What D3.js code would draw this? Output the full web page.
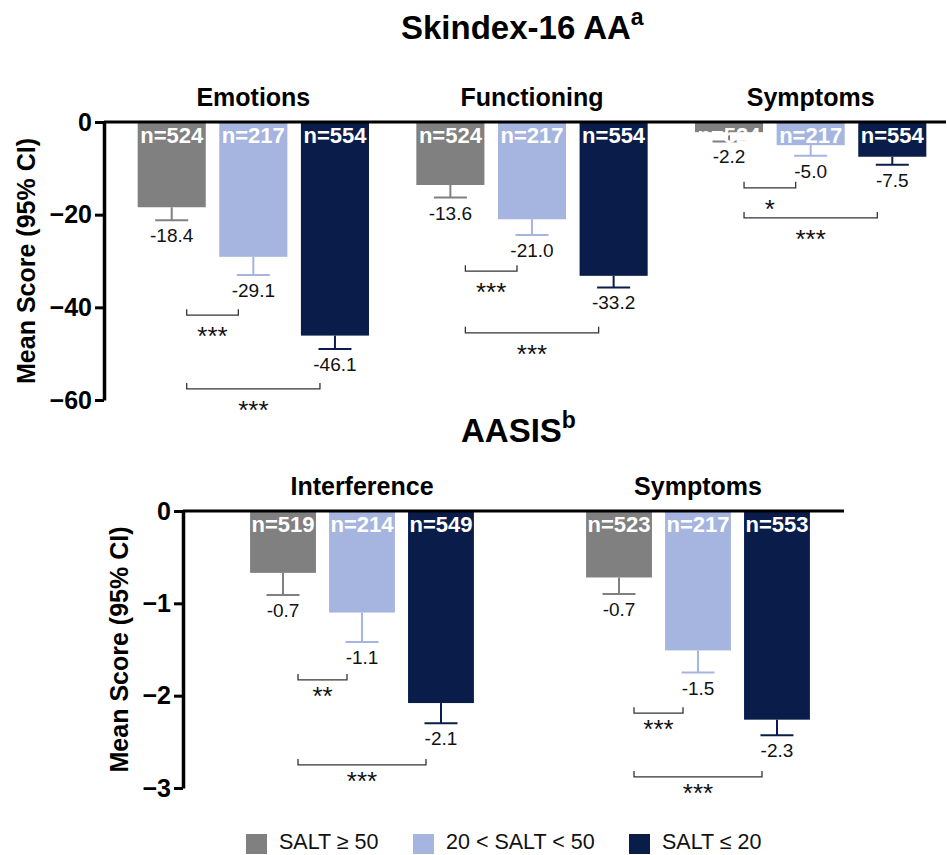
<!DOCTYPE html>
<html>
<head>
<meta charset="utf-8">
<script src="https://cdn.jsdelivr.net/npm/d3@7"></script>
<style>
  body { margin: 0; background: #fff; }
  text { font-family: Arial, "Liberation Sans", Helvetica, sans-serif; }
</style>
</head>
<body>
<script>
// series (SALT groups)
const seriesLabels = ["SALT \u2265 50", "20 < SALT < 50", "SALT \u2264 20"];
const seriesColors = ["#808080", "#a6b5df", "#0a1d4a"];

// Skindex-16 AA
const skindexDomains = ["Emotions", "Functioning", "Symptoms"];
const skindexMeans = [[-18.4, -29.1, -46.1], [-13.6, -21.0, -33.2], [-2.2, -5.0, -7.5]];
const skindexLower = [[-21.2, -33.0, -49.0], [-16.3, -24.4, -35.7], [-4.2, -7.3, -9.2]];
const skindexN = [[524, 217, 554], [524, 217, 554], [524, 217, 554]];
// [from series, to series, bracket level, label]
const skindexSig = [
  [[0, 1, -41.7, "***"], [0, 2, -57.6, "***"]],
  [[0, 1, -32.2, "***"], [0, 2, -45.5, "***"]],
  [[0, 1, -14.2, "*"], [0, 2, -20.7, "***"]]
];
const skindexTicks = [0, -20, -40, -60];

// AASIS
const aasisDomains = ["Interference", "Symptoms"];
const aasisMeans = [[-0.7, -1.1, -2.1], [-0.7, -1.5, -2.3]];
const aasisBars = [[-0.67, -1.10, -2.08], [-0.72, -1.51, -2.26]];
const aasisLower = [[-0.91, -1.42, -2.30], [-0.90, -1.75, -2.43]];
const aasisN = [[519, 214, 549], [523, 217, 553]];
const aasisSig = [
  [[0, 1, -1.83, "**"], [0, 2, -2.75, "***"]],
  [[0, 1, -2.19, "***"], [0, 2, -2.88, "***"]]
];
const aasisTicks = [0, -1, -2, -3];

const W = 947, H = 855;

const svg = d3.select("body").append("svg")
    .attr("width", W)
    .attr("height", H);

function drawPanel(p) {
  let g = svg.append("g");

  let y = d3.scaleLinear().domain(p.yDomain).range(p.yRange);
  let x0 = d3.scaleBand().domain(p.domains).range(p.xRange);
  let x1 = d3.scaleBand().domain([0, 1, 2])
      .range([0, x0.bandwidth()])
      .paddingInner(0.166)
      .paddingOuter(p.outerPad);
  let cx = (gi, si) => x0(p.domains[gi]) + x1(si) + x1.bandwidth() / 2;

  // title with superscript
  let t = g.append("text")
      .attr("x", p.titleX)
      .attr("y", p.titleY)
      .attr("font-size", 33)
      .attr("font-weight", "bold")
      .text(p.title);
  t.append("tspan")
      .attr("font-size", 23)
      .attr("dy", -14)
      .text(p.sup);

  // domain subtitles
  g.selectAll(".sub")
    .data(p.domains)
    .enter().append("text")
      .attr("class", "sub")
      .attr("x", d => x0(d) + x0.bandwidth() / 2)
      .attr("y", p.subY)
      .attr("text-anchor", "middle")
      .attr("font-size", 25)
      .attr("font-weight", "bold")
      .text(d => d);

  // bars
  let cells = [];
  p.domains.forEach((d, gi) => {
    [0, 1, 2].forEach(si => {
      cells.push({gi: gi, si: si, v: p.bars[gi][si], label: p.means[gi][si],
                  lo: p.lower[gi][si], n: p.n[gi][si]});
    });
  });

  let bar = g.selectAll(".bar")
    .data(cells)
    .enter().append("g")
      .attr("class", "bar");

  bar.append("rect")
      .attr("x", d => x0(p.domains[d.gi]) + x1(d.si))
      .attr("y", y(0))
      .attr("width", x1.bandwidth())
      .attr("height", d => y(d.v) - y(0))
      .attr("fill", d => seriesColors[d.si]);

  // error bars
  bar.append("line")
      .attr("x1", d => cx(d.gi, d.si))
      .attr("x2", d => cx(d.gi, d.si))
      .attr("y1", d => y(d.v))
      .attr("y2", d => y(d.lo))
      .attr("stroke", d => seriesColors[d.si])
      .attr("stroke-width", 2);
  bar.append("line")
      .attr("x1", d => cx(d.gi, d.si) - 16.5)
      .attr("x2", d => cx(d.gi, d.si) + 16.5)
      .attr("y1", d => y(d.lo))
      .attr("y2", d => y(d.lo))
      .attr("stroke", d => seriesColors[d.si])
      .attr("stroke-width", 2);

  // n labels
  bar.append("text")
      .attr("x", d => cx(d.gi, d.si))
      .attr("y", y(0) + 21)
      .attr("text-anchor", "middle")
      .attr("font-size", 22)
      .attr("font-weight", "bold")
      .attr("fill", "#fff")
      .text(d => "n=" + d.n);

  // mean labels
  bar.append("text")
      .attr("x", d => cx(d.gi, d.si))
      .attr("y", d => y(d.lo) + 22)
      .attr("text-anchor", "middle")
      .attr("font-size", 19)
      .attr("fill", "#111")
      .text(d => d.label.toFixed(1));

  // significance brackets
  let sig = [];
  p.sig.forEach((list, gi) => list.forEach(s => sig.push({gi: gi, a: s[0], b: s[1], v: s[2], label: s[3]})));

  let br = g.selectAll(".sig")
    .data(sig)
    .enter().append("g")
      .attr("class", "sig");

  br.append("path")
      .attr("d", d => {
        let xa = cx(d.gi, d.a) + 15, xb = cx(d.gi, d.b) - 15, yy = y(d.v);
        return "M" + xa + "," + (yy - 6) + "V" + yy + "H" + xb + "V" + (yy - 6);
      })
      .attr("fill", "none")
      .attr("stroke", "#333")
      .attr("stroke-width", 1.3);

  br.append("text")
      .attr("x", d => (cx(d.gi, d.a) + cx(d.gi, d.b)) / 2)
      .attr("y", d => y(d.v) + p.starOff)
      .attr("text-anchor", "middle")
      .attr("font-size", 26)
      .attr("fill", "#111")
      .text(d => d.label);

  // y axis
  let axis = g.append("g")
      .attr("transform", "translate(" + p.axisX + ",0)")
      .call(d3.axisLeft(y).tickValues(p.ticks).tickFormat(d3.format("d"))
        .tickSize(9).tickSizeOuter(0).tickPadding(3));
  axis.select(".domain").attr("stroke", "#000").attr("stroke-width", 3.5);
  axis.selectAll(".tick line").attr("stroke", "#000").attr("stroke-width", 3);
  axis.selectAll(".tick text")
      .attr("fill", "#000")
      .attr("font-size", 25)
      .attr("font-weight", "bold")
      .attr("font-family", null);

  // zero line
  g.append("line")
      .attr("x1", p.axisX)
      .attr("x2", p.zeroEnd)
      .attr("y1", y(0))
      .attr("y2", y(0))
      .attr("stroke", "#000")
      .attr("stroke-width", 3);

  g.append("text")
      .attr("transform", "translate(" + p.labelX + "," + (p.yRange[0] + p.yRange[1]) / 2 + ") rotate(-90)")
      .attr("text-anchor", "middle")
      .attr("font-size", 25)
      .attr("font-weight", "bold")
      .text("Mean Score (95% CI)");
}

drawPanel({
  title: "Skindex-16 AA", sup: "a", titleX: 401, titleY: 39,
  domains: skindexDomains, means: skindexMeans, bars: skindexMeans, lower: skindexLower,
  n: skindexN, sig: skindexSig, ticks: skindexTicks,
  yDomain: [-60, 0], yRange: [400, 122], xRange: [114, 950], outerPad: 0.29,
  axisX: 104, zeroEnd: 946, subY: 106, labelX: 35, starOff: 30
});

drawPanel({
  title: "AASIS", sup: "b", titleX: 461, titleY: 442,
  domains: aasisDomains, means: aasisMeans, bars: aasisBars, lower: aasisLower,
  n: aasisN, sig: aasisSig, ticks: aasisTicks,
  yDomain: [-3, 0], yRange: [788, 511], xRange: [194, 866], outerPad: 0.71,
  axisX: 183, zeroEnd: 844, subY: 495, labelX: 128, starOff: 25
});

// legend
let legend = svg.append("g")
    .attr("transform", "translate(246,834)");

let lx = d3.scaleOrdinal().domain(seriesLabels).range([0, 167, 383]);

let item = legend.selectAll(".item")
  .data(seriesLabels)
  .enter().append("g")
    .attr("class", "item")
    .attr("transform", d => "translate(" + lx(d) + ",0)");

item.append("rect")
    .attr("width", 21)
    .attr("height", 20)
    .attr("fill", (d, i) => seriesColors[i]);

item.append("text")
    .attr("x", 33)
    .attr("y", 15)
    .attr("font-size", 21.5)
    .attr("fill", "#111")
    .text(d => d);
</script>
</body>
</html>
